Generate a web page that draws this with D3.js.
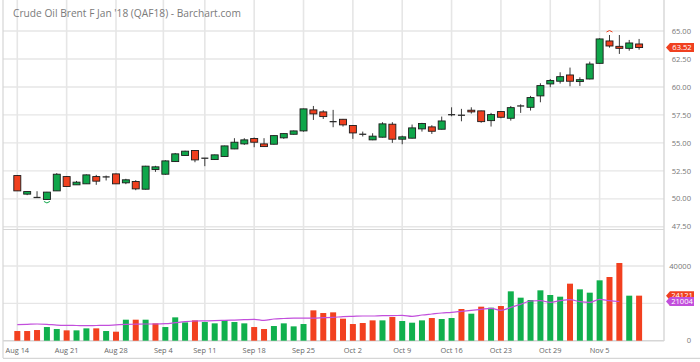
<!DOCTYPE html>
<html><head><meta charset="utf-8">
<script src="https://cdn.jsdelivr.net/npm/d3@7"></script>
<style>
html,body{margin:0;padding:0;background:#fff;}
svg{display:block;font-family:"Open Sans",sans-serif;}
</style></head>
<body><svg id="c" width="700" height="362"></svg>
<script>
const title = "Crude Oil Brent F Jan '18 (QAF18) - Barchart.com";
const opens  = [52.08,50.42,50.12,49.94,50.71,51.99,51.25,51.34,51.99,51.96,52.23,51.43,51.55,50.86,52.62,52.20,53.33,53.87,54.32,53.63,53.51,53.78,54.46,54.91,55.39,54.91,54.88,55.45,55.77,56.07,57.95,57.77,56.90,57.11,56.55,55.77,55.27,55.51,56.67,55.33,55.42,56.25,56.43,56.22,57.52,57.47,57.92,57.86,56.99,57.80,57.20,58.30,58.18,59.20,60.27,60.51,61.07,60.48,60.71,62.11,64.11,63.63,63.45,63.84];
const highs  = [52.12,50.65,50.68,50.62,52.30,52.02,51.60,52.18,52.14,52.08,52.26,51.79,51.67,52.95,52.95,53.45,54.10,54.30,54.35,53.66,53.95,54.75,55.42,55.42,55.48,55.42,55.68,55.86,56.10,58.06,58.30,57.92,57.95,57.14,56.58,56.01,55.86,56.85,56.85,55.65,56.64,56.79,56.58,57.35,58.18,58.04,58.18,57.88,57.68,57.82,58.30,58.45,59.20,60.33,60.71,61.31,61.73,60.86,62.26,64.35,64.64,64.64,64.20,64.29];
const lows   = [50.71,50.33,50.10,49.90,50.71,51.10,51.25,51.34,51.25,51.64,51.34,51.31,50.77,50.83,52.41,52.15,53.30,53.85,53.27,52.92,53.48,53.75,54.44,54.82,54.61,54.67,54.85,55.36,55.75,56.00,57.05,57.14,56.40,56.46,55.36,55.57,55.24,55.48,55.00,54.88,55.40,56.01,55.80,56.20,57.38,56.93,57.62,56.80,56.46,57.20,56.99,57.68,57.89,58.63,59.97,60.30,60.06,60.09,60.68,62.08,63.51,62.95,63.24,63.33];
const closes = [50.71,50.65,50.12,50.60,52.20,51.10,51.49,52.14,51.58,51.96,51.34,51.70,50.89,52.92,52.86,53.39,54.02,54.26,53.48,53.63,53.93,54.73,55.06,55.27,55.06,54.67,55.65,55.83,56.07,58.04,57.59,57.35,56.90,56.61,55.89,55.77,55.60,56.70,55.33,55.54,56.34,56.73,56.04,56.96,57.52,57.47,57.77,56.90,57.53,57.29,58.15,58.30,59.05,60.12,60.57,60.92,60.51,60.65,62.05,64.29,63.66,63.45,63.93,63.52];
const volumes = [5180,5180,5715,7320,6250,5540,5540,6610,6610,5180,4820,11250,11250,11250,9290,7320,12500,9820,10890,10000,9290,11070,10000,9290,7320,6250,7860,9290,7680,8930,16250,14820,15180,11790,8930,9470,10890,10890,12680,10540,9640,10890,12140,11610,12140,16970,14470,18220,17680,18570,26430,23040,21790,26970,24470,23570,30540,27500,25720,32330,34110,41610,24110,24121];
const volMA = [8570,8750,8930,8750,8390,8210,8130,8040,8130,8210,8480,8750,8840,8930,8930,9110,9640,10180,10540,10630,10720,10890,11070,11250,11430,10890,11610,11880,12140,12140,12140,12320,12500,12860,13040,13220,13220,13400,13400,13570,13040,13750,14290,14820,15180,15720,16250,16790,17320,16250,17860,19470,21250,21430,20540,21430,21970,20900,20540,22150,21430,21004];
const dateLabels = ["Aug 14","Aug 21","Aug 28","Sep 4","Sep 11","Sep 18","Sep 25","Oct 2","Oct 9","Oct 16","Oct 23","Oct 29","Nov 5"];
const dateIndex  = [0,5,10,14.8,19,24,29,34,39,44,49,54,59];
const priceTicks = [47.5,50,52.5,55,57.5,60,62.5,65];
const volTicks = [0,20000,40000];

const svg = d3.select("#c");
const GREEN = "#0fa64a", RED = "#f0401f", VGREEN = "#10b04d", VRED = "#f2401f", PURPLE = "#c24fdc";
const GRID = "#e6e6e6", BORDER = "#d6d6d6";
const plotL = 3, plotR = 664;

const x = d3.scaleLinear().domain([0, 63]).range([17.3, 639.1]);
const yP = d3.scaleLinear().domain([47.5, 65]).range([226.8, 31]);
const yV = d3.scaleLinear().domain([0, 40000]).range([340.7, 266]);

// grid
const g = svg.append("g");
g.selectAll(".vg").data(dateIndex).join("line")
  .attr("x1", d => x(d)).attr("x2", d => x(d)).attr("y1", 0).attr("y2", 341)
  .attr("stroke", GRID).attr("stroke-width", 1.6);
g.selectAll(".hp").data(priceTicks).join("line")
  .attr("x1", plotL).attr("x2", plotR).attr("y1", d => yP(d)).attr("y2", d => yP(d))
  .attr("stroke", GRID).attr("stroke-width", 1.4);
g.selectAll(".hv").data(volTicks.slice(1)).join("line")
  .attr("x1", plotL).attr("x2", plotR).attr("y1", d => yV(d)).attr("y2", d => yV(d))
  .attr("stroke", GRID).attr("stroke-width", 1.4);

// borders
g.append("line").attr("x1", plotL).attr("x2", plotL).attr("y1", 0).attr("y2", 358).attr("stroke", BORDER).attr("stroke-width", 1.2);
g.append("line").attr("x1", plotR).attr("x2", plotR).attr("y1", 0).attr("y2", 341).attr("stroke", BORDER).attr("stroke-width", 1.4);
g.append("line").attr("x1", plotL).attr("x2", plotR).attr("y1", 229.5).attr("y2", 229.5).attr("stroke", BORDER).attr("stroke-width", 1.2);
g.append("line").attr("x1", plotL).attr("x2", plotR).attr("y1", yV(0)).attr("y2", yV(0)).attr("stroke", BORDER).attr("stroke-width", 1.4);
g.append("line").attr("x1", plotL).attr("x2", 700).attr("y1", 358.3).attr("y2", 358.3).attr("stroke", BORDER).attr("stroke-width", 1.2);

// title
svg.append("text").attr("x", 13).attr("y", 16.5).attr("font-size", 10.2).attr("fill", "#7a7a7a").text(title);

// right axis labels
svg.append("g").selectAll("text").data(priceTicks).join("text")
  .attr("x", 691).attr("y", d => yP(d)).attr("dy", "0.35em").attr("text-anchor", "end")
  .attr("font-size", 7.6).attr("fill", "#777").text(d => d.toFixed(2));
svg.append("g").selectAll("text").data(volTicks).join("text")
  .attr("x", 691).attr("y", d => yV(d)).attr("dy", "0.35em").attr("text-anchor", "end")
  .attr("font-size", 7.6).attr("fill", "#777").text(d => d);

// x labels
svg.append("g").selectAll("text").data(dateLabels).join("text")
  .attr("x", (d, i) => x(dateIndex[i])).attr("y", 350).attr("dy", "0.35em").attr("text-anchor", "middle")
  .attr("font-size", 7.4).attr("fill", "#666").text(d => d);

// volume bars
const idx = d3.range(volumes.length);
const volUp = i => i === 0 ? closes[0] >= opens[0] : closes[i] >= closes[i - 1];
svg.append("g").selectAll("rect").data(idx).join("rect")
  .attr("x", i => x(i) - 3).attr("width", 6)
  .attr("y", i => yV(volumes[i])).attr("height", i => yV(0) - yV(volumes[i]))
  .attr("fill", i => volUp(i) ? VGREEN : VRED);

// volume MA
svg.append("path").datum(volMA)
  .attr("d", d3.line().x((d, i) => x(i)).y(d => yV(d)).curve(d3.curveMonotoneX))
  .attr("fill", "none").attr("stroke", PURPLE).attr("stroke-width", 1.2);

// candles
const cg = svg.append("g");
cg.selectAll("line").data(idx).join("line")
  .attr("x1", i => x(i)).attr("x2", i => x(i))
  .attr("y1", i => yP(highs[i])).attr("y2", i => yP(lows[i]))
  .attr("stroke", "#3a3a3a").attr("stroke-width", 1);
cg.selectAll("rect").data(idx.filter(i => opens[i] !== closes[i])).join("rect")
  .attr("x", i => x(i) - 3.5).attr("width", 7)
  .attr("y", i => yP(Math.max(opens[i], closes[i])))
  .attr("height", i => Math.max(1, Math.abs(yP(opens[i]) - yP(closes[i]))))
  .attr("fill", i => closes[i] > opens[i] ? GREEN : RED)
  .attr("stroke", "#1c1c1c").attr("stroke-width", 0.9);
cg.selectAll(".doji").data(idx.filter(i => opens[i] === closes[i])).join("line")
  .attr("x1", i => x(i) - 3.5).attr("x2", i => x(i) + 3.5)
  .attr("y1", i => yP(closes[i])).attr("y2", i => yP(closes[i]))
  .attr("stroke", "#2a2a2a").attr("stroke-width", 1.3);

// high / low markers
const hiI = d3.maxIndex(highs), loI = d3.minIndex(lows);
svg.append("path")
  .attr("d", `M${x(hiI) - 3},${yP(highs[hiI]) - 3} Q${x(hiI)},${yP(highs[hiI]) - 6} ${x(hiI) + 3},${yP(highs[hiI]) - 3}`)
  .attr("fill", "none").attr("stroke", RED).attr("stroke-width", 1);
svg.append("path")
  .attr("d", `M${x(loI) - 3},${yP(lows[loI]) + 1.5} Q${x(loI)},${yP(lows[loI]) + 4.5} ${x(loI) + 3},${yP(lows[loI]) + 1.5}`)
  .attr("fill", "none").attr("stroke", GREEN).attr("stroke-width", 1);

// value tags
function tag(yv, color, label) {
  const h = 9, x0 = 666, x1 = 670, x2 = 694;
  svg.append("path")
    .attr("d", `M${x0},${yv} L${x1},${yv - h / 2} L${x2},${yv - h / 2} L${x2},${yv + h / 2} L${x1},${yv + h / 2} Z`)
    .attr("fill", color);
  svg.append("text").attr("x", 682).attr("y", yv).attr("dy", "0.35em").attr("text-anchor", "middle")
    .attr("font-size", 7.6).attr("fill", "#fff").text(label);
}
tag(yP(closes[closes.length - 1]), RED, closes[closes.length - 1].toFixed(2));
tag(yV(volumes[volumes.length - 1]), RED, volumes[volumes.length - 1]);
tag(yV(volMA[volMA.length - 1]), PURPLE, volMA[volMA.length - 1]);
</script></body></html>
